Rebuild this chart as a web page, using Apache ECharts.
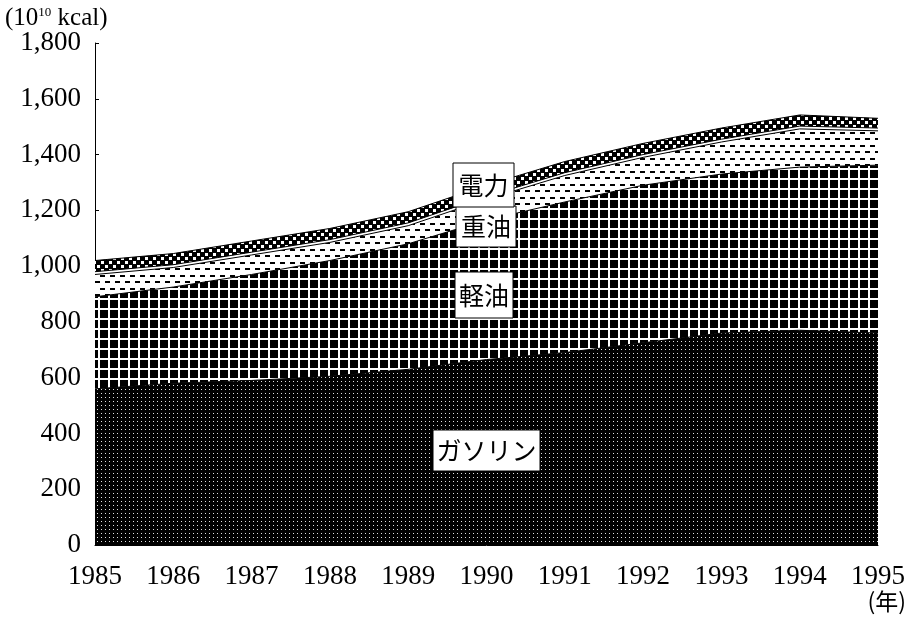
<!DOCTYPE html>
<html>
<head>
<meta charset="utf-8">
<script src="https://cdn.jsdelivr.net/npm/echarts@6/dist/echarts.min.js"></script>
<style>
  html, body { margin: 0; padding: 0; background: #fff; }
  #chart { width: 910px; height: 618px; }
</style>
</head>
<body>
<div id="chart"></div>
<script>
// 年
var years = ['1985', '1986', '1987', '1988', '1989', '1990', '1991', '1992', '1993', '1994', '1995'];
// 各エネルギー (10^10 kcal)
var gasoline = [560, 580, 590, 605, 630, 665, 690, 725, 760, 770, 760];
var keiyu    = [330, 345, 380, 415, 450, 500, 540, 565, 570, 585, 602];
var juyu     = [80, 70, 70, 65, 65, 75, 95, 100, 115, 137, 123];
var other    = [10, 10, 10, 10, 10, 10, 10, 10, 10, 10, 10];
var denryoku = [40, 40, 40, 40, 40, 40, 40, 40, 40, 40, 35];
var yTicks = [0, 200, 400, 600, 800, 1000, 1200, 1400, 1600, 1800];

// パターン用のcanvasを作る
function makeTile(w, h, draw) {
  var c = document.createElement('canvas');
  c.width = w; c.height = h;
  draw(c.getContext('2d'));
  return { image: c, repeat: 'repeat' };
}
var patGasoline = makeTile(4, 4, function (ctx) {
  ctx.fillStyle = '#000'; ctx.fillRect(0, 0, 4, 4);
  ctx.fillStyle = '#e0e0e0'; ctx.fillRect(1, 1, 1, 1);
});
var patKeiyu = makeTile(10, 10, function (ctx) {
  ctx.fillStyle = '#fff'; ctx.fillRect(0, 0, 10, 10);
  ctx.fillStyle = '#000'; ctx.fillRect(0, 0, 8, 8);
});
var patJuyu = makeTile(10, 13, function (ctx) {
  ctx.fillStyle = '#fff'; ctx.fillRect(0, 0, 10, 13);
  ctx.fillStyle = '#000';
  ctx.fillRect(0, 2, 5, 2);
  ctx.fillRect(5, 8, 5, 2);
});
var patDenryoku = makeTile(8, 8, function (ctx) {
  ctx.fillStyle = '#000'; ctx.fillRect(0, 0, 8, 8);
  ctx.fillStyle = '#fff';
  ctx.fillRect(1, 1, 3, 3);
  ctx.fillRect(5, 5, 3, 3);
});

function areaSeries(name, data, fill) {
  return {
    name: name,
    type: 'line',
    stack: 'total',
    data: data,
    symbol: 'none',
    lineStyle: { color: '#000', width: 1 },
    areaStyle: { color: fill, opacity: 1 },
    emphasis: { disabled: true }
  };
}

var serif = '"Liberation Serif", "Times New Roman", serif';
var jp = '"Noto Sans CJK JP", sans-serif';

// ラベルの枠
function labelBox(x, y, w, h, text) {
  return [
    { type: 'rect', z: 100, zlevel: 1, shape: { x: x, y: y, width: w, height: h },
      style: { fill: '#fff', stroke: '#000', lineWidth: 1 } },
    { type: 'text', z: 101, zlevel: 1, x: x + w / 2, y: y + h / 2,
      style: { text: text, font: '25px ' + jp, fill: '#000', align: 'center', verticalAlign: 'middle' } }
  ];
}

var myChart = echarts.init(document.getElementById('chart'));
myChart.setOption({
  animation: false,
  grid: { left: 95, right: 32, top: 43, bottom: 73 },
  xAxis: {
    type: 'category',
    data: years,
    boundaryGap: false,
    axisLine: { show: true, lineStyle: { color: '#000', width: 1 } },
    axisTick: { show: false },
    axisLabel: { color: '#000', fontFamily: serif, fontSize: 27, margin: 18 }
  },
  yAxis: {
    type: 'value',
    min: 0,
    max: 1800,
    interval: 200,
    axisLine: { show: true, lineStyle: { color: '#000', width: 1 } },
    axisTick: { show: true, inside: true, length: 4, lineStyle: { color: '#000' } },
    splitLine: { show: false },
    axisLabel: {
      color: '#000', fontFamily: serif, fontSize: 27, margin: 14,
      formatter: function (v) { return yTicks.indexOf(v) >= 0 ? v.toLocaleString('en-US') : ''; }
    }
  },
  series: [
    areaSeries('ガソリン', gasoline, patGasoline),
    areaSeries('軽油', keiyu, patKeiyu),
    areaSeries('重油', juyu, patJuyu),
    areaSeries('その他', other, '#fff'),
    areaSeries('電力', denryoku, patDenryoku)
  ],
  graphic: [
    {
      type: 'text', left: 5, top: 6, z: 100,
      style: {
        text: '{a|(10}{s|10}{a| kcal)}',
        rich: {
          a: { font: '25px ' + serif, fill: '#000' },
          s: { font: '13px ' + serif, fill: '#000', verticalAlign: 'top', padding: [0, 0, 10, 0] }
        }
      }
    },
    {
      type: 'text', right: 4, bottom: 5, z: 100,
      style: { text: '(年)', font: '23px ' + jp, fill: '#000' }
    }
  ].concat(
    labelBox(433, 430, 107, 41, 'ガソリン'),
    labelBox(455, 272, 58, 46, '軽油'),
    labelBox(456, 206, 60, 41, '重油'),
    labelBox(453, 163, 61, 44, '電力')
  )
});
</script>
</body>
</html>
